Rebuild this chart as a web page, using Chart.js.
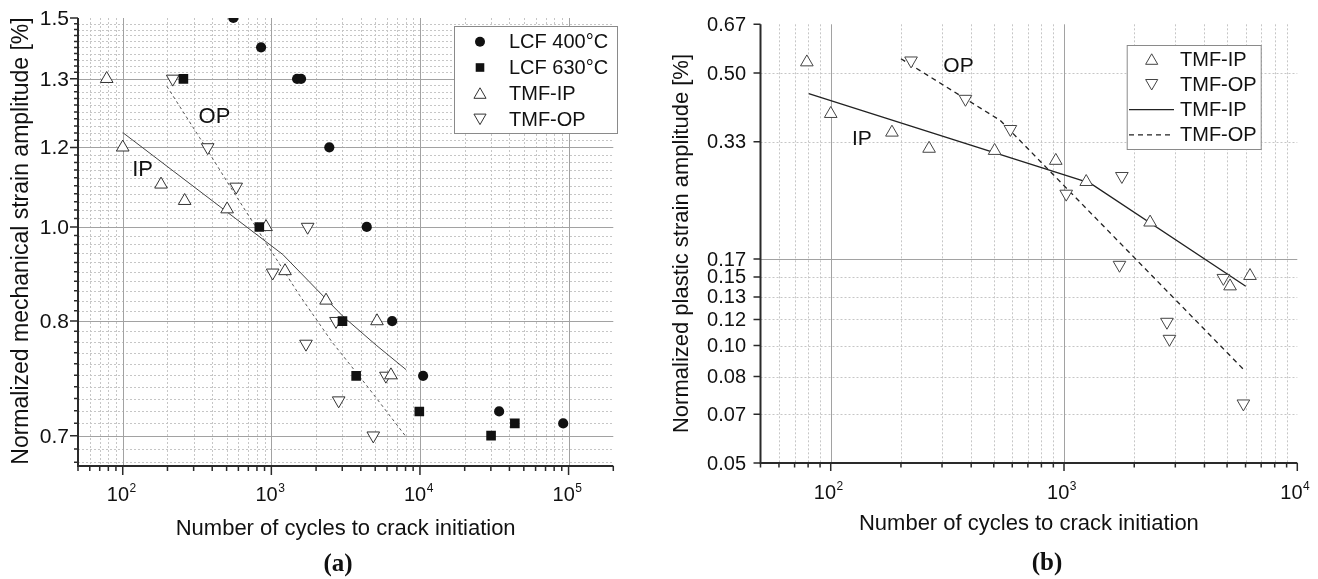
<!DOCTYPE html>
<html><head><meta charset="utf-8">
<script src="https://cdn.jsdelivr.net/npm/chart.js@4.4.0/dist/chart.umd.min.js"></script>
<style>
html,body{margin:0;padding:0;background:#fff;}
body{width:1318px;height:579px;overflow:hidden;position:relative;}
#ca{position:absolute;left:0;top:0;}
#cb{position:absolute;left:640px;top:0;}
.pl{position:absolute;font-family:"Liberation Serif","Times New Roman",serif;font-weight:bold;font-size:25px;color:#111;line-height:1;transform:translate(-50%,-50%);white-space:nowrap;}
</style></head><body>
<canvas id="ca" width="640" height="579"></canvas>
<canvas id="cb" width="678" height="579"></canvas>
<div class="pl" style="left:338px;top:562px;">(a)</div>
<div class="pl" style="left:1047px;top:561px;">(b)</div>
<script>
// ================= Panel (a) data =================
const lcf400X = [555, 853, 1490, 1585, 2455, 4385, 6500, 10500, 34100, 92000];
const lcf400Y = [1.5, 1.417, 1.333, 1.333, 1.167, 1.0, 0.833, 0.749, 0.699, 0.683];
const lcf630X = [256, 830, 3010, 3720, 9900, 30100, 43500];
const lcf630Y = [1.333, 1.0, 0.833, 0.749, 0.699, 0.667, 0.683];
const tmfIpAX = [78, 100, 181, 261, 504, 921, 1236, 2334, 5140, 6380];
const tmfIpAY = [1.333, 1.167, 1.086, 1.052, 1.035, 1.0, 0.918, 0.867, 0.833, 0.75];
const tmfOpAX = [217, 373, 580, 1021, 1755, 1710, 2723, 2838, 4853, 5900];
const tmfOpAY = [1.333, 1.167, 1.081, 0.915, 1.0, 0.797, 0.833, 0.714, 0.667, 0.749];
const ipFitAX = [100, 1193, 3023, 5073, 8074];
const ipFitAY = [1.201, 0.948, 0.841, 0.795, 0.758];
const opFitAX = [198, 328, 547, 923, 1546, 2577, 4345, 7953];
const opFitAY = [1.314, 1.190, 1.074, 0.969, 0.876, 0.799, 0.736, 0.667];
const aYTickVals = [0.6667, 0.8333, 1.0, 1.1667, 1.3333, 1.5];
const aYTickLabels = ['0.7', '0.8', '1.0', '1.2', '1.3', '1.5'];
const aXTickExps = [2, 3, 4, 5];
const aLegendLabels = ['LCF 400°C', 'LCF 630°C', 'TMF-IP', 'TMF-OP'];
const aNotes = [{t: 'OP', x: 414, y: 1.238}, {t: 'IP', x: 136, y: 1.116}];
const aXTitle = 'Number of cycles to crack initiation';
const aYTitle = 'Normalized mechanical strain amplitude [%]';

// ================= Panel (b) data =================
const tmfIpBX = [79, 100, 183, 264, 504, 922, 1245, 2339, 5150, 6270];
const tmfIpBY = [0.533, 0.393, 0.352, 0.320, 0.316, 0.298, 0.263, 0.207, 0.142, 0.151];
const tmfOpBX = [221, 378, 589, 1022, 1770, 1729, 4820, 2762, 2831, 5874];
const tmfOpBY = [0.538, 0.429, 0.359, 0.245, 0.272, 0.161, 0.149, 0.115, 0.104, 0.071];
const ipFitBX = [80.5, 1295, 6012];
const ipFitBY = [0.443, 0.261, 0.142];
const opFitBX = [200, 533, 5870];
const opFitBY = [0.544, 0.378, 0.087];
const bYTickVals = [0.05, 0.0667, 0.0833, 0.1, 0.1167, 0.1333, 0.15, 0.1667, 0.3333, 0.5, 0.6667];
const bYTickLabels = ['0.05', '0.07', '0.08', '0.10', '0.12', '0.13', '0.15', '0.17', '0.33', '0.50', '0.67'];
const bXTickExps = [2, 3, 4];
const bLegendLabels = ['TMF-IP', 'TMF-OP', 'TMF-IP', 'TMF-OP'];
const bNotes = [{t: 'OP', x: 353, y: 0.522}, {t: 'IP', x: 136, y: 0.3385}];
const bXTitle = 'Number of cycles to crack initiation';
const bYTitle = 'Normalized plastic strain amplitude [%]';

// ================= helpers =================
const pts = (xs, ys) => xs.map((x, i) => ({x: x, y: ys[i]}));
function logMinors(min, max) {
  const out = [];
  for (let d = Math.floor(Math.log10(min)); d <= Math.ceil(Math.log10(max)); d++) {
    for (let m = 2; m <= 9; m++) {
      const v = m * Math.pow(10, d);
      if (v >= min * 0.999 && v <= max * 1.001) out.push(v);
    }
  }
  return out;
}
const SANS = '"Liberation Sans", Arial, Helvetica, sans-serif';

function triPath(ctx, x, y, r, down) {
  const s = down ? -1 : 1;
  ctx.beginPath();
  ctx.moveTo(x, y - s * r);
  ctx.lineTo(x + r * Math.sin(2 * Math.PI / 3), y + s * r / 2);
  ctx.lineTo(x - r * Math.sin(2 * Math.PI / 3), y + s * r / 2);
  ctx.closePath();
}
function drawLegendMarker(ctx, kind, x, y, o) {
  ctx.save();
  if (kind === 'circle') { ctx.fillStyle = '#111'; ctx.beginPath(); ctx.arc(x, y, 5, 0, Math.PI * 2); ctx.fill(); }
  else if (kind === 'rect') { ctx.fillStyle = '#111'; ctx.fillRect(x - 4.3, y - 4.3, 8.6, 8.6); }
  else if (kind === 'up' || kind === 'down') {
    triPath(ctx, x, y + (kind === 'up' ? 1.5 : -1.5), 7, kind === 'down');
    ctx.fillStyle = '#fff'; ctx.fill(); ctx.strokeStyle = o.triColor; ctx.lineWidth = 1; ctx.stroke();
  } else if (kind === 'solid' || kind === 'dash') {
    ctx.strokeStyle = o.lineColor; ctx.lineWidth = o.lineWidth;
    ctx.setLineDash(kind === 'dash' ? o.dash : []);
    ctx.beginPath(); ctx.moveTo(o.lx1, y); ctx.lineTo(o.lx2, y); ctx.stroke();
  }
  ctx.restore();
}

function frame(o) {
  return {
    id: 'frame',
    beforeDatasetsDraw(chart) {
      const {ctx, chartArea: a, scales: {x, y}} = chart;
      ctx.save();
      ctx.lineWidth = 1;
      ctx.strokeStyle = '#c6c6c6';
      ctx.setLineDash([2, 2]);
      ctx.beginPath();
      o.xGridDotted.forEach(v => { const p = Math.round(x.getPixelForValue(v)) + 0.5; if (p > a.left + 1 && p < a.right - 1) { ctx.moveTo(p, a.top); ctx.lineTo(p, a.bottom); } });
      o.yGridDotted.forEach(v => { const p = Math.round(y.getPixelForValue(v)) + 0.5; if (p > a.top + 1 && p < a.bottom - 1) { ctx.moveTo(a.left, p); ctx.lineTo(a.right, p); } });
      ctx.stroke();
      ctx.setLineDash([]);
      ctx.strokeStyle = '#a2a2a2';
      ctx.beginPath();
      o.xGridSolid.forEach(v => { const p = Math.round(x.getPixelForValue(v)) + 0.5; if (p > a.left + 1 && p < a.right - 1) { ctx.moveTo(p, a.top); ctx.lineTo(p, a.bottom); } });
      o.yGridSolid.forEach(v => { const p = Math.round(y.getPixelForValue(v)) + 0.5; if (p > a.top + 1 && p < a.bottom - 1) { ctx.moveTo(a.left, p); ctx.lineTo(a.right, p); } });
      ctx.stroke();
      ctx.restore();
    },
    afterDatasetsDraw(chart) {
      const {ctx, chartArea: a, scales: {x, y}} = chart;
      ctx.save();
      ctx.strokeStyle = '#2a2a2a';
      ctx.lineWidth = 2;
      ctx.beginPath();
      ctx.moveTo(a.left, a.top); ctx.lineTo(a.left, a.bottom); ctx.lineTo(a.right, a.bottom);
      ctx.stroke();
      ctx.lineWidth = 1.5;
      ctx.beginPath();
      o.yTicksMajor.forEach(v => { const p = y.getPixelForValue(v); ctx.moveTo(a.left, p); ctx.lineTo(a.left - o.yMajLen, p); });
      o.yTicksMinor.forEach(v => { const p = y.getPixelForValue(v); ctx.moveTo(a.left, p); ctx.lineTo(a.left - o.yMinLen, p); });
      o.xTicksMajor.forEach(v => { const p = x.getPixelForValue(v); ctx.moveTo(p, a.bottom); ctx.lineTo(p, a.bottom + o.xMajLen); });
      o.xTicksMinor.forEach(v => { const p = x.getPixelForValue(v); ctx.moveTo(p, a.bottom); ctx.lineTo(p, a.bottom + o.xMinLen); });
      ctx.stroke();
      ctx.fillStyle = '#111';
      ctx.font = o.yFont;
      ctx.textAlign = 'right';
      ctx.textBaseline = 'middle';
      o.yTickVals.forEach((v, i) => ctx.fillText(o.yTickLabels[i], a.left - o.yLabelGap, y.getPixelForValue(v) + 1));
      ctx.textAlign = 'left';
      ctx.textBaseline = 'alphabetic';
      o.xExps.forEach(e => {
        const px = x.getPixelForValue(Math.pow(10, e));
        ctx.font = o.xFont; const w1 = ctx.measureText('10').width;
        ctx.font = o.xSupFont; const w2 = ctx.measureText(String(e)).width;
        const st = px - (w1 + w2) / 2 + o.xLabelShift;
        ctx.font = o.xFont; ctx.fillText('10', st, a.bottom + o.xLabelBase);
        ctx.font = o.xSupFont; ctx.fillText(String(e), st + w1 + 0.5, a.bottom + o.xLabelBase - 9);
      });
      ctx.font = o.xTitleFont;
      ctx.textAlign = 'center';
      ctx.fillText(o.xTitle, (a.left + a.right) / 2, o.xTitleBase);
      ctx.save();
      ctx.translate(o.yTitleX, o.yTitleY);
      ctx.rotate(-Math.PI / 2);
      ctx.font = o.yTitleFont;
      ctx.textBaseline = 'middle';
      ctx.fillText(o.yTitle, 0, 0);
      ctx.restore();
      ctx.font = o.noteFont;
      ctx.textAlign = 'center';
      ctx.textBaseline = 'middle';
      o.notes.forEach(n => ctx.fillText(n.t, x.getPixelForValue(n.x), y.getPixelForValue(n.y)));
      const L = o.legend;
      ctx.fillStyle = '#fff';
      ctx.fillRect(L.x, L.y, L.w, L.h);
      ctx.strokeStyle = '#8a8a8a';
      ctx.lineWidth = 1;
      ctx.strokeRect(L.x + 0.5, L.y + 0.5, L.w, L.h);
      ctx.font = o.legendFont;
      ctx.textAlign = 'left';
      ctx.textBaseline = 'middle';
      L.kinds.forEach((k, i) => {
        const ry = L.y0 + i * L.dy;
        drawLegendMarker(ctx, k, L.mx, ry, L);
        ctx.fillStyle = '#111';
        ctx.fillText(L.labels[i], L.tx, ry + 1);
      });
      ctx.restore();
    }
  };
}

// ================= Chart (a) =================
const aXMinors = logMinors(50, 200000);
const aYMinors = [];
for (let k = 38; k <= 89; k++) { if (k % 10 !== 0) aYMinors.push(k / 60); }
const cfgA = {
  xGridDotted: aXMinors, xGridSolid: [100, 1000, 10000, 100000],
  yGridDotted: aYMinors, yGridSolid: aYTickVals,
  yTicksMajor: aYTickVals, yTicksMinor: aYMinors, yMajLen: 8, yMinLen: 4,
  xTicksMajor: [100, 1000, 10000, 100000], xTicksMinor: aXMinors, xMajLen: 9, xMinLen: 5,
  yTickVals: aYTickVals, yTickLabels: aYTickLabels, yFont: '21px ' + SANS, yLabelGap: 9,
  xExps: aXTickExps, xFont: '20px ' + SANS, xSupFont: '12px ' + SANS, xLabelShift: -1.5, xLabelBase: 34.5,
  xTitle: aXTitle, xTitleFont: '22px ' + SANS, xTitleBase: 535,
  yTitle: aYTitle, yTitleFont: '23px ' + SANS, yTitleX: 22, yTitleY: 241,
  notes: aNotes, noteFont: '22px ' + SANS,
  legendFont: '20px ' + SANS,
  legend: {x: 454, y: 26, w: 163, h: 107, y0: 41.7, dy: 25.8, mx: 480, tx: 509,
    kinds: ['circle', 'rect', 'up', 'down'], labels: aLegendLabels, triColor: '#333'}
};
new Chart(document.getElementById('ca'), {
  type: 'scatter',
  data: {datasets: [
    {label: aLegendLabels[0], data: pts(lcf400X, lcf400Y), pointStyle: 'circle', pointRadius: 5.1, backgroundColor: '#111', borderColor: '#111', borderWidth: 0, clip: 0},
    {label: aLegendLabels[1], data: pts(lcf630X, lcf630Y), pointStyle: 'rect', pointRadius: 6.8, backgroundColor: '#111', borderColor: '#111', borderWidth: 0, clip: 0},
    {label: aLegendLabels[2], data: pts(tmfIpAX, tmfIpAY), pointStyle: 'triangle', pointRadius: 7.3, backgroundColor: '#fff', borderColor: '#333', borderWidth: 1, clip: 0},
    {label: aLegendLabels[3], data: pts(tmfOpAX, tmfOpAY), pointStyle: 'triangle', pointRotation: 180, pointRadius: 7.3, backgroundColor: '#fff', borderColor: '#333', borderWidth: 1, clip: 0},
    {label: 'IP fit', data: pts(ipFitAX, ipFitAY), showLine: true, pointRadius: 0, borderColor: '#444', borderWidth: 1, clip: 0},
    {label: 'OP fit', data: pts(opFitAX, opFitAY), showLine: true, pointRadius: 0, borderColor: '#555', borderWidth: 1, borderDash: [3, 3], clip: 0}
  ]},
  options: {
    responsive: false, animation: false, events: [], devicePixelRatio: 1,
    layout: {padding: {left: 78, top: 18, right: 26.7, bottom: 113}},
    plugins: {legend: {display: false}, tooltip: {enabled: false}},
    scales: {
      x: {type: 'logarithmic', min: 50, max: 200000, display: false},
      y: {type: 'logarithmic', min: 0.6288, max: 1.5, display: false}
    }
  },
  plugins: [frame(cfgA)]
});

// ================= Chart (b) =================
const bXMinors = logMinors(50, 10000);
const bYDotted = [0.05, 0.0667, 0.0833, 0.1, 0.1167, 0.1333, 0.15, 0.3333, 0.5];
const cfgB = {
  xGridDotted: bXMinors, xGridSolid: [100, 1000],
  yGridDotted: bYDotted, yGridSolid: [0.1667],
  yTicksMajor: bYTickVals, yTicksMinor: [], yMajLen: 7, yMinLen: 4,
  xTicksMajor: [100, 1000, 10000], xTicksMinor: bXMinors, xMajLen: 8, xMinLen: 4.5,
  yTickVals: bYTickVals, yTickLabels: bYTickLabels, yFont: '20px ' + SANS, yLabelGap: 14.5,
  xExps: bXTickExps, xFont: '20px ' + SANS, xSupFont: '12px ' + SANS, xLabelShift: -2.5, xLabelBase: 35.5,
  xTitle: bXTitle, xTitleFont: '22px ' + SANS, xTitleBase: 530,
  yTitle: bYTitle, yTitleFont: '22px ' + SANS, yTitleX: 42, yTitleY: 243.5,
  notes: bNotes, noteFont: '21px ' + SANS,
  legendFont: '20px ' + SANS,
  legend: {x: 486.7, y: 45, w: 134, h: 104, y0: 59.3, dy: 25.2, mx: 511.7, tx: 540,
    kinds: ['up', 'down', 'solid', 'dash'], labels: bLegendLabels, triColor: '#444',
    lineColor: '#222', lineWidth: 1.3, dash: [5, 4], lx1: 489, lx2: 534}
};
new Chart(document.getElementById('cb'), {
  type: 'scatter',
  data: {datasets: [
    {label: bLegendLabels[0], data: pts(tmfIpBX, tmfIpBY), pointStyle: 'triangle', pointRadius: 7.3, backgroundColor: '#fff', borderColor: '#444', borderWidth: 1, clip: 0},
    {label: bLegendLabels[1], data: pts(tmfOpBX, tmfOpBY), pointStyle: 'triangle', pointRotation: 180, pointRadius: 7.3, backgroundColor: '#fff', borderColor: '#444', borderWidth: 1, clip: 0},
    {label: 'TMF-IP fit', data: pts(ipFitBX, ipFitBY), showLine: true, pointRadius: 0, borderColor: '#222', borderWidth: 1.3, clip: 0},
    {label: 'TMF-OP fit', data: pts(opFitBX, opFitBY), showLine: true, pointRadius: 0, borderColor: '#222', borderWidth: 1.3, borderDash: [5, 4], clip: 0}
  ]},
  options: {
    responsive: false, animation: false, events: [], devicePixelRatio: 1,
    layout: {padding: {left: 120.5, top: 24.3, right: 20.7, bottom: 116}},
    plugins: {legend: {display: false}, tooltip: {enabled: false}},
    scales: {
      x: {type: 'logarithmic', min: 50, max: 10000, display: false},
      y: {type: 'logarithmic', min: 0.05, max: 0.6667, display: false}
    }
  },
  plugins: [frame(cfgB)]
});
</script>
</body></html>
